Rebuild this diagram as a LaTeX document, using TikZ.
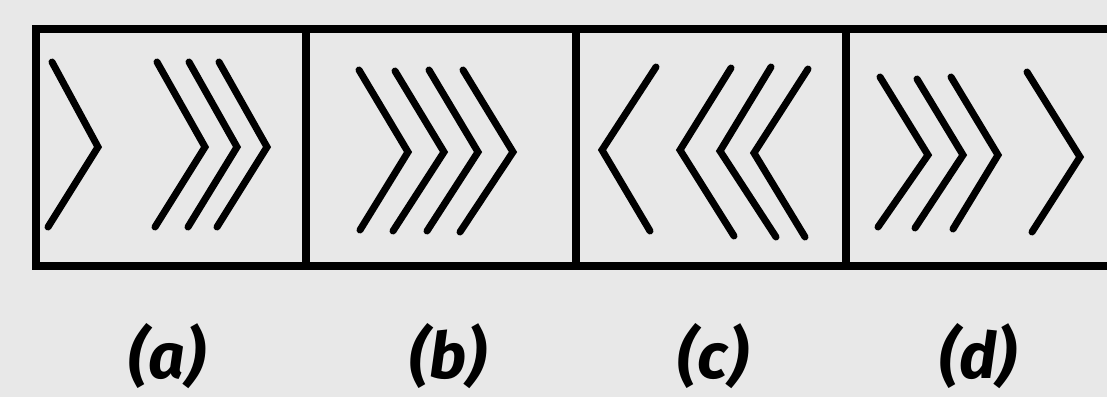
\documentclass[tikz,border=0pt]{standalone}
\usepackage{fontspec}
\newfontfamily\labfont{Fira Sans}
\definecolor{bg}{RGB}{232,232,232}
\begin{document}
\begin{tikzpicture}[x=1pt,y=-1pt,
  cell/.style={draw=black, line width=7.5pt, minimum width=270pt, minimum height=237pt, inner sep=0pt, outer sep=0pt, fill=bg},
  chev/.style={line width=7pt, line cap=round, line join=miter},
  lab/.style={font=\labfont\bfseries\itshape\fontsize{64}{64}\selectfont, inner sep=0pt}]
\fill[bg] (0,0) rectangle (1107,397);
\useasboundingbox (0,0) rectangle (1107,397);
\begin{scope}
\clip (0,0) rectangle (1107,397);
\node[cell] (ca) at (171,147.5) {};
\node[cell] (cb) at (441,147.5) {};
\node[cell] (cc) at (711,147.5) {};
\node[cell] (cd) at (981,147.5) {};
% (a)
\draw[chev] (52,62) -- (98,147) -- (48,227);
\draw[chev] (157,62) -- (205,147) -- (155,227);
\draw[chev] (189,62) -- (237,147) -- (188,227);
\draw[chev] (219,62) -- (267,147) -- (217,227);
% (b)
\draw[chev] (359,70) -- (408,152) -- (360,230);
\draw[chev] (395,71) -- (444,152) -- (393,231);
\draw[chev] (429,70) -- (478,152) -- (427,231);
\draw[chev] (463,70) -- (513,152) -- (460,232);
% (c)
\draw[chev] (656,67) -- (602,150) -- (650,231);
\draw[chev] (731,68) -- (680,150) -- (734,236);
\draw[chev] (771,67) -- (720,151) -- (776,237);
\draw[chev] (808,69) -- (754,153) -- (805,237);
% (d)
\draw[chev] (880,77) -- (928,155) -- (878,227);
\draw[chev] (917,79) -- (963,155) -- (915,228);
\draw[chev] (951,77) -- (998,155) -- (953,229);
\draw[chev] (1027,72) -- (1080,157) -- (1032,232);
\end{scope}
\node[lab] (la) at (167,356) {(a)};
\node[lab] (lb) at (448,356) {(b)};
\node[lab] (lc) at (713,356) {(c)};
\node[lab] (ld) at (978,356) {(d)};
\end{tikzpicture}
\end{document}
